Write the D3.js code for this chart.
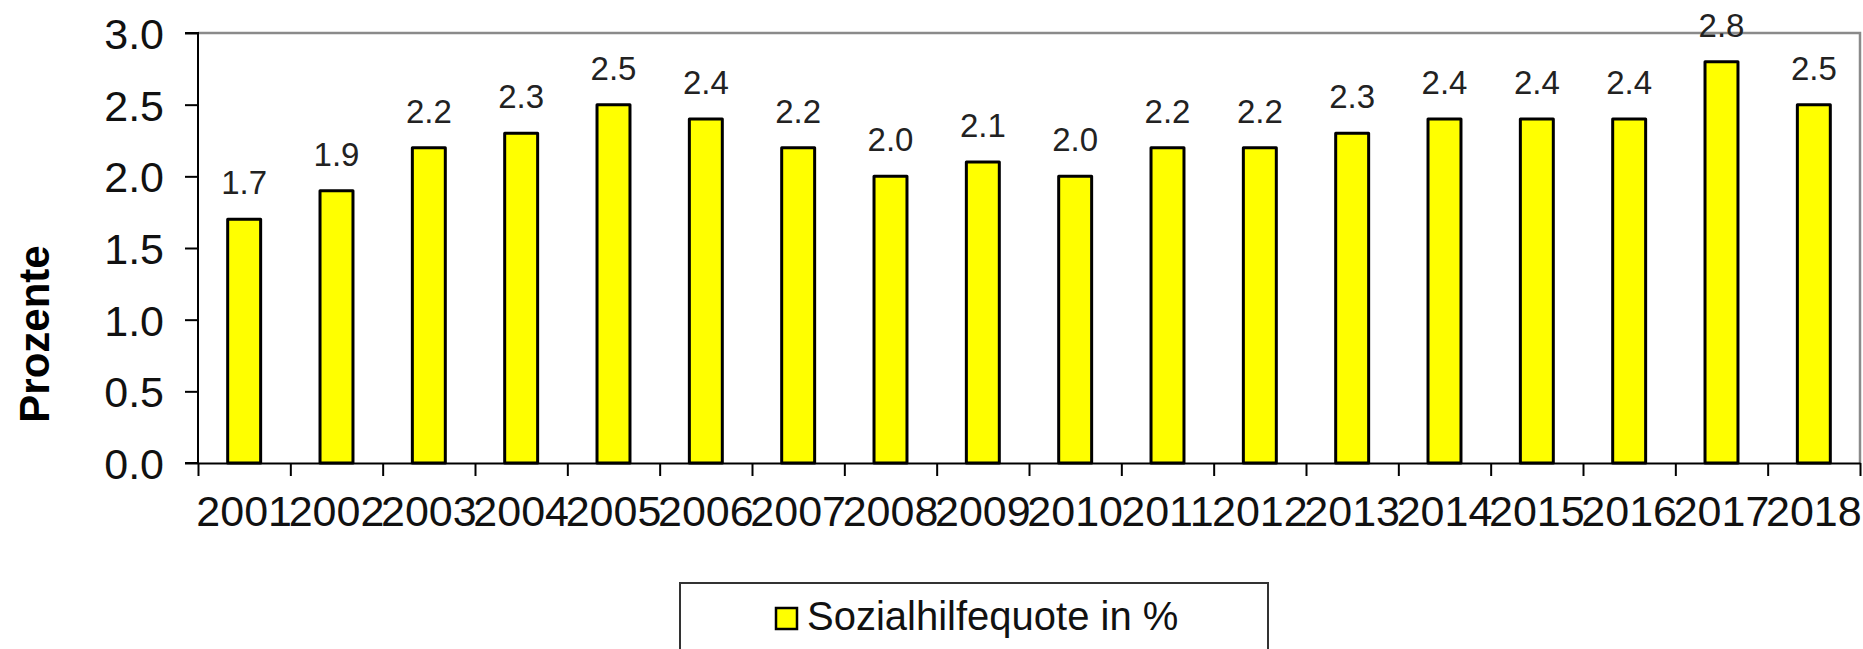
<!DOCTYPE html>
<html>
<head>
<meta charset="utf-8">
<script src="https://cdn.jsdelivr.net/npm/d3@7"></script>
<style>
  html, body { margin: 0; padding: 0; background: #fff; }
  svg { display: block; font-family: "Liberation Sans", Arial, sans-serif; }
</style>
</head>
<body>
<svg id="chart" width="1863" height="649"></svg>
<script>
const years = ["2001","2002","2003","2004","2005","2006","2007","2008","2009","2010","2011","2012","2013","2014","2015","2016","2017","2018"];
const values = [1.7,1.9,2.2,2.3,2.5,2.4,2.2,2.0,2.1,2.0,2.2,2.2,2.3,2.4,2.4,2.4,2.8,2.5];
const yTicks = [0,0.5,1.0,1.5,2.0,2.5,3.0];
const seriesName = "Sozialhilfequote in %";
const yTitle = "Prozente";

(function () {
const data = years.map((y, i) => ({year: y, value: values[i]}));

const svg = d3.select("#chart");
const pL = 198, pR = 1860, pT = 33, pB = 463;

const x = d3.scaleBand().domain(years).range([pL, pR]).paddingInner(0.643).paddingOuter(0.3215);
const xb = d3.scaleLinear().domain([0, years.length]).range([pL, pR]);
const y = d3.scaleLinear().domain([0, 3]).range([pB, pT]);

// plot border (top & right gray)
svg.append("path")
  .attr("d", `M${pL},${pT}H${pR}V${pB}`)
  .attr("fill", "none").attr("stroke", "#8a8a8a").attr("stroke-width", 2.5);

// bars
svg.append("g").selectAll("rect").data(data).join("rect")
  .attr("x", d => x(d.year))
  .attr("y", d => y(d.value))
  .attr("width", x.bandwidth())
  .attr("height", d => y(0) - y(d.value))
  .attr("fill", "#ffff00")
  .attr("stroke", "#000")
  .attr("stroke-width", 3)
  .attr("stroke-linejoin", "round");

// data labels
svg.append("g").selectAll("text").data(data).join("text")
  .attr("x", d => x(d.year) + x.bandwidth() / 2)
  .attr("y", d => y(d.value) - 25)
  .attr("text-anchor", "middle")
  .attr("font-size", 33)
  .attr("fill", "#222")
  .text(d => d3.format(".1f")(d.value));

// y axis
const yAxis = svg.append("g").attr("transform", `translate(${pL},0)`)
  .call(d3.axisLeft(y).tickValues(yTicks).tickFormat(d3.format(".1f")).tickSize(13).tickPadding(21));
yAxis.select(".domain").attr("stroke", "#000").attr("stroke-width", 2).attr("d", `M-13,${pT}H0V${pB}H-13`);
yAxis.selectAll(".tick line").attr("stroke", "#000").attr("stroke-width", 2);
yAxis.selectAll(".tick text").attr("font-size", 43).attr("fill", "#111")
  .attr("font-family", "'Liberation Sans', Arial, sans-serif").attr("dy", "0.36em");

// x axis (boundary ticks)
const xAxis = svg.append("g").attr("transform", `translate(0,${pB})`)
  .call(d3.axisBottom(xb).tickValues(d3.range(years.length + 1)).tickFormat("").tickSize(13).tickSizeOuter(0));
xAxis.select(".domain").attr("stroke", "#000").attr("stroke-width", 2);
xAxis.selectAll(".tick line").attr("stroke", "#000").attr("stroke-width", 2);

// x labels
svg.append("g").selectAll("text").data(years).join("text")
  .attr("x", d => x(d) + x.bandwidth() / 2)
  .attr("y", 526)
  .attr("text-anchor", "middle")
  .attr("font-size", 43)
  .attr("fill", "#111")
  .text(d => d);

// y title
svg.append("text")
  .attr("transform", "translate(49,334) rotate(-90)")
  .attr("text-anchor", "middle")
  .attr("font-size", 42)
  .attr("font-weight", "bold")
  .attr("fill", "#000")
  .text(yTitle);

// legend
const lg = svg.append("g");
lg.append("rect").attr("x", 680).attr("y", 583).attr("width", 588).attr("height", 90)
  .attr("fill", "#fff").attr("stroke", "#333").attr("stroke-width", 2);
lg.append("rect").attr("x", 776).attr("y", 608).attr("width", 21).attr("height", 21)
  .attr("fill", "#ffff00").attr("stroke", "#000").attr("stroke-width", 2.5);
lg.append("text").attr("x", 807).attr("y", 630).attr("font-size", 40).attr("fill", "#111").text(seriesName);
})();
</script>
</body>
</html>
